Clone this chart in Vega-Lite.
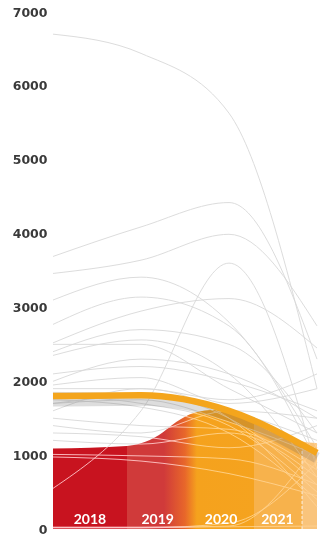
{
  "$schema": "https://vega.github.io/schema/vega-lite/v6.json",
  "width": 264,
  "height": 517,
  "autosize": {"type": "none"},
  "padding": {"left": 53, "top": 12, "right": 4, "bottom": 7},
  "background": "white",
  "config": {"view": {"stroke": null}},
  "datasets": {
    "area": [
      {"t": 0, "v": 1090}, {"t": 0.84, "v": 1125}, {"t": 1.0, "v": 1160}, {"t": 1.2, "v": 1270},
      {"t": 1.4, "v": 1450}, {"t": 1.6, "v": 1570}, {"t": 1.85, "v": 1615}, {"t": 2.1, "v": 1540},
      {"t": 2.5, "v": 1310}, {"t": 2.8, "v": 1190}, {"t": 3, "v": 1160}
    ],
    "lines": [
      {"id": "A", "t": 0, "v": 6700}, {"id": "A", "t": 1, "v": 6440}, {"id": "A", "t": 2, "v": 5630}, {"id": "A", "t": 3, "v": 1900},
      {"id": "B", "t": 0, "v": 3690}, {"id": "B", "t": 1, "v": 4090}, {"id": "B", "t": 2, "v": 4420}, {"id": "B", "t": 3, "v": 2300},
      {"id": "C", "t": 0, "v": 3460}, {"id": "C", "t": 1, "v": 3640}, {"id": "C", "t": 2, "v": 3990}, {"id": "C", "t": 3, "v": 2750},
      {"id": "D", "t": 0, "v": 3100}, {"id": "D", "t": 1, "v": 3410}, {"id": "D", "t": 2, "v": 2800}, {"id": "D", "t": 3, "v": 1100},
      {"id": "E", "t": 0, "v": 2770}, {"id": "E", "t": 1, "v": 3140}, {"id": "E", "t": 2, "v": 2750}, {"id": "E", "t": 3, "v": 900},
      {"id": "F", "t": 0, "v": 2520}, {"id": "F", "t": 1, "v": 2950}, {"id": "F", "t": 2, "v": 3120}, {"id": "F", "t": 3, "v": 2450},
      {"id": "G", "t": 0, "v": 550}, {"id": "G", "t": 1, "v": 1600}, {"id": "G", "t": 2, "v": 3600}, {"id": "G", "t": 3, "v": 800},
      {"id": "H", "t": 0, "v": 2500}, {"id": "H", "t": 1, "v": 2500}, {"id": "H", "t": 2, "v": 1900}, {"id": "H", "t": 3, "v": 1300},
      {"id": "I", "t": 0, "v": 2350}, {"id": "I", "t": 1, "v": 2560}, {"id": "I", "t": 2, "v": 2100}, {"id": "I", "t": 3, "v": 700},
      {"id": "J", "t": 0, "v": 2100}, {"id": "J", "t": 1, "v": 2200}, {"id": "J", "t": 2, "v": 2000}, {"id": "J", "t": 3, "v": 1600},
      {"id": "K", "t": 0, "v": 1950}, {"id": "K", "t": 1, "v": 2050}, {"id": "K", "t": 2, "v": 1700}, {"id": "K", "t": 3, "v": 1900},
      {"id": "L", "t": 0, "v": 1900}, {"id": "L", "t": 1, "v": 1900}, {"id": "L", "t": 2, "v": 1750}, {"id": "L", "t": 3, "v": 2100},
      {"id": "M", "t": 0, "v": 1850}, {"id": "M", "t": 1, "v": 1830}, {"id": "M", "t": 2, "v": 1500}, {"id": "M", "t": 3, "v": 600},
      {"id": "N", "t": 0, "v": 1800}, {"id": "N", "t": 1, "v": 1700}, {"id": "N", "t": 2, "v": 1400}, {"id": "N", "t": 3, "v": 500},
      {"id": "O", "t": 0, "v": 1750}, {"id": "O", "t": 1, "v": 1650}, {"id": "O", "t": 2, "v": 1300}, {"id": "O", "t": 3, "v": 400},
      {"id": "P", "t": 0, "v": 1700}, {"id": "P", "t": 1, "v": 1800}, {"id": "P", "t": 2, "v": 1600}, {"id": "P", "t": 3, "v": 1200},
      {"id": "Q", "t": 0, "v": 1600}, {"id": "Q", "t": 1, "v": 1900}, {"id": "Q", "t": 2, "v": 1500}, {"id": "Q", "t": 3, "v": 300},
      {"id": "R", "t": 0, "v": 1500}, {"id": "R", "t": 1, "v": 1400}, {"id": "R", "t": 2, "v": 1350}, {"id": "R", "t": 3, "v": 800},
      {"id": "S", "t": 0, "v": 1400}, {"id": "S", "t": 1, "v": 1300}, {"id": "S", "t": 2, "v": 1600}, {"id": "S", "t": 3, "v": 1500},
      {"id": "T", "t": 0, "v": 1300}, {"id": "T", "t": 1, "v": 1250}, {"id": "T", "t": 2, "v": 1100}, {"id": "T", "t": 3, "v": 1400},
      {"id": "U", "t": 0, "v": 1200}, {"id": "U", "t": 1, "v": 1150}, {"id": "U", "t": 2, "v": 1300}, {"id": "U", "t": 3, "v": 700},
      {"id": "V", "t": 0, "v": 1010}, {"id": "V", "t": 1, "v": 990}, {"id": "V", "t": 2, "v": 950}, {"id": "V", "t": 3, "v": 600},
      {"id": "W", "t": 0, "v": 975}, {"id": "W", "t": 1, "v": 920}, {"id": "W", "t": 2, "v": 750}, {"id": "W", "t": 3, "v": 450},
      {"id": "X", "t": 0, "v": 25}, {"id": "X", "t": 1, "v": 25}, {"id": "X", "t": 2, "v": 30}, {"id": "X", "t": 3, "v": 40},
      {"id": "Y", "t": 0, "v": 20}, {"id": "Y", "t": 1, "v": 20}, {"id": "Y", "t": 2, "v": 40}, {"id": "Y", "t": 3, "v": 1150},
      {"id": "Z", "t": 0, "v": 15}, {"id": "Z", "t": 1, "v": 15}, {"id": "Z", "t": 2, "v": 80}, {"id": "Z", "t": 3, "v": 900},
      {"id": "AA", "t": 0, "v": 1700}, {"id": "AA", "t": 1, "v": 1750}, {"id": "AA", "t": 2, "v": 1450}, {"id": "AA", "t": 3, "v": 1000},
      {"id": "AB", "t": 0, "v": 2000}, {"id": "AB", "t": 1, "v": 2300}, {"id": "AB", "t": 2, "v": 2100}, {"id": "AB", "t": 3, "v": 1500},
      {"id": "AC", "t": 0, "v": 2400}, {"id": "AC", "t": 1, "v": 2700}, {"id": "AC", "t": 2, "v": 2500}, {"id": "AC", "t": 3, "v": 1300}
    ],
    "main": [
      {"t": 0, "v": 1800}, {"t": 1, "v": 1810}, {"t": 2, "v": 1600}, {"t": 3, "v": 1030}
    ],
    "years": [
      {"year": "2018", "t": 0.42}, {"year": "2019", "t": 1.19}, {"year": "2020", "t": 1.91}, {"year": "2021", "t": 2.55}
    ],
    "divider": [{"t": 2.83, "v0": 0, "v1": 1180}]
  },
  "layer": [
    {
      "data": {"name": "area"},
      "mark": {
        "type": "area",
        "interpolate": "monotone",
        "fill": {
          "gradient": "linear", "x1": 0, "x2": 1, "y1": 0, "y2": 0,
          "stops": [
            {"offset": 0, "color": "#C8131F"},
            {"offset": 0.28, "color": "#C8131F"},
            {"offset": 0.281, "color": "#D03A3A"},
            {"offset": 0.42, "color": "#D03A3A"},
            {"offset": 0.5, "color": "#E8672A"},
            {"offset": 0.545, "color": "#F5A21D"},
            {"offset": 0.76, "color": "#F5A31F"},
            {"offset": 0.761, "color": "#F7B24C"},
            {"offset": 0.943, "color": "#F7B24C"},
            {"offset": 0.944, "color": "#F9C47C"},
            {"offset": 1, "color": "#F9C47C"}
          ]
        }
      },
      "encoding": {
        "x": {"field": "t", "type": "quantitative", "scale": {"domain": [0, 3], "nice": false, "zero": false}, "axis": null},
        "y": {"field": "v", "type": "quantitative", "scale": {"domain": [0, 7000], "nice": false},
          "axis": {"values": [0, 1000, 2000, 3000, 4000, 5000, 6000, 7000], "format": "d", "domain": false, "ticks": false, "grid": false,
            "labelPadding": 6, "labelFont": "DejaVu Sans", "labelFontWeight": "bold", "labelFontSize": 12.5, "labelColor": "#3a3a3a", "title": null}}
      }
    },
    {
      "data": {"name": "divider"},
      "mark": {"type": "rule", "color": "white", "strokeDash": [3, 2], "strokeWidth": 1, "opacity": 0.8},
      "encoding": {
        "x": {"field": "t", "type": "quantitative"},
        "y": {"field": "v0", "type": "quantitative"},
        "y2": {"field": "v1"}
      }
    },
    {
      "data": {"name": "lines"},
      "mark": {"type": "line", "interpolate": "monotone", "color": "#d8d8d8", "strokeWidth": 0.9, "blend": "luminosity"},
      "encoding": {
        "x": {"field": "t", "type": "quantitative"},
        "y": {"field": "v", "type": "quantitative"},
        "detail": {"field": "id"}
      }
    },
    {
      "data": {"name": "main"},
      "mark": {"type": "line", "interpolate": "monotone", "color": "#555555", "strokeWidth": 11, "opacity": 0.2, "yOffset": 5},
      "encoding": {
        "x": {"field": "t", "type": "quantitative"},
        "y": {"field": "v", "type": "quantitative"}
      }
    },
    {
      "data": {"name": "main"},
      "mark": {"type": "line", "interpolate": "monotone", "color": "#F4A51C", "strokeWidth": 6.5},
      "encoding": {
        "x": {"field": "t", "type": "quantitative"},
        "y": {"field": "v", "type": "quantitative"}
      }
    },
    {
      "data": {"name": "years"},
      "mark": {"type": "text", "color": "white", "font": "Lato", "fontWeight": "bold", "fontSize": 14, "baseline": "bottom", "dy": -2},
      "encoding": {
        "x": {"field": "t", "type": "quantitative"},
        "y": {"datum": 0},
        "text": {"field": "year"}
      }
    }
  ]
}
